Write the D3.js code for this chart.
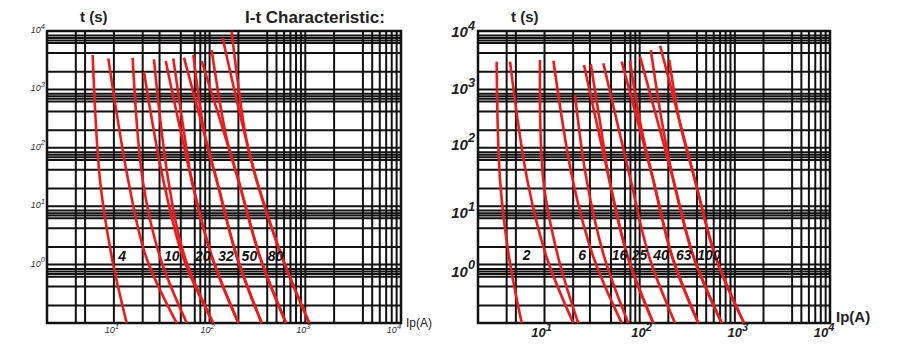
<!DOCTYPE html>
<html><head><meta charset="utf-8">
<script src="https://cdn.jsdelivr.net/npm/d3@7"></script>
<style>html,body{margin:0;padding:0;background:#fff}svg{display:block}</style>
</head><body><div id="chart"></div>
<script>
// ---- data ----
const xDomain = [2, 10000];
const yDomain = [0.1, 10000];
const xGridValues = [4,5,10,20,30,50,70,80,90,100,200,400,500,600,700,800,900,1000,2000,4000,5000,6000,7000,8000,9000];
const yGridValues = [0.2,0.42,0.62,0.69,0.76,0.84,1,2,4.2,6.2,6.9,7.6,8.4,10,20,42,62,69,76,84,100,200,420,620,690,760,840,1000,2000,4200,6200,6900,7600,8400];
const decadeTicks = [1,10,100,1000,10000];
const decadeExp = ["1","2","3","4"];
const yDecadeTicks = [1,10,100,1000,10000];
const yDecadeExp = ["0","1","2","3","4"];

// left chart curves: [current A, time s]
const leftCurves = [
  [[6.0,3880],[7.16,28],[9.5,1.35],[13.6,0.1]],
  [[8.74,3400],[14.1,28],[21.7,1.35],[45.3,0.1]],
  [[15.7,3490],[20,28],[30.3,1.35],[57.7,0.1]],
  [[20.6,2010],[32.8,28],[52.7,1.35],[109,0.1]],
  [[26.2,3280],[37,28],[55,1.35],[109,0.1]],
  [[34.8,3060],[65,28],[106,1.35],[200,0.1]],
  [[41.7,3400],[55,150],[65,28],[106,1.35],[200,0.1]],
  [[54,3490],[118.6,28],[193,1.35],[350,0.1]],
  [[67.6,3880],[90,150],[118.6,28],[193,1.35],[350,0.1]],
  [[82.7,3060],[200,28],[336,1.35],[629,0.1]],
  [[105,4730],[150,150],[200,28],[336,1.35],[629,0.1]],
  [[137,7500],[310,28],[571,1.35],[1101,0.1]],
  [[170,9730],[240,150],[310,28],[571,1.35],[1101,0.1]]
];
const leftLabels = ["4","10","20","32","50","80"];
const leftLabelI = [11.1,33.4,70.4,123,216,405];
const leftLabelT = 1.15;

const rightCurves = [
  [[3.14,2980],[3.41,28],[4.24,1.35],[5.76,0.1]],
  [[4.34,2980],[6.59,28],[10.5,1.35],[20.07,0.1]],
  [[8.96,3190],[9.71,28],[13.9,1.35],[22.6,0.1]],
  [[12.4,3100],[19.8,28],[32.6,1.35],[64.7,0.1]],
  [[20.9,800],[27.7,28],[42.4,1.35],[75.9,0.1]],
  [[26,2620],[48,28],[75,1.35],[139,0.1]],
  [[30.6,2720],[38,300],[48,28],[75,1.35],[139,0.1]],
  [[41.5,2800],[80.5,28],[126,1.35],[235,0.1]],
  [[64.7,2980],[139,28],[220,1.35],[413,0.1]],
  [[79,3100],[100,300],[139,28],[220,1.35],[413,0.1]],
  [[101,3630],[226,28],[369,1.35],[728,0.1]],
  [[131,4730],[170,300],[226,28],[369,1.35],[728,0.1]],
  [[164,5600],[381,28],[628,1.35],[1248,0.1]],
  [[205,3190],[260,300],[381,28],[628,1.35],[1248,0.1]]
];
const rightLabels = ["2","6","16","25","40","63","100"];
const rightLabelI = [5.9,22.6,50.8,82.4,139,241,403];
const rightLabelT = 1.2;

// ---- drawing ----
const W = 900, H = 364;
const svg = d3.select("#chart").append("svg").attr("width", W).attr("height", H)
  .style("font-family", "Liberation Sans, Arial, sans-serif");

function panel(cfg) {
  const x = d3.scaleLog().domain(xDomain).range(cfg.xr);
  const y = d3.scaleLog().domain(yDomain).range(cfg.yr);
  const g = svg.append("g");
  const grid = g.append("g").attr("stroke", "#111").attr("stroke-width", 2);
  grid.selectAll("line.v").data(xGridValues).join("line").attr("class","v")
    .attr("x1", d => x(d)).attr("x2", d => x(d)).attr("y1", cfg.yr[0]).attr("y2", cfg.yr[1]);
  grid.selectAll("line.h").data(yGridValues).join("line").attr("class","h")
    .attr("y1", d => y(d)).attr("y2", d => y(d)).attr("x1", cfg.xr[0]).attr("x2", cfg.xr[1]);
  g.append("rect").attr("x", cfg.xr[0]).attr("y", cfg.yr[1])
    .attr("width", cfg.xr[1]-cfg.xr[0]).attr("height", cfg.yr[0]-cfg.yr[1])
    .attr("fill", "none").attr("stroke", "#111").attr("stroke-width", 2.5);

  const line = d3.line().x(d => x(d[0])).y(d => y(d[1])).curve(d3.curveCatmullRom.alpha(0.5));
  g.append("g").selectAll("path").data(cfg.curves).join("path")
    .attr("d", line).attr("fill", "none").attr("stroke", "#f01a1a").attr("stroke-width", 2.6)
    .attr("stroke-linecap", "butt");

  g.append("g").selectAll("text").data(cfg.labels).join("text")
    .attr("x", (d,i) => x(cfg.labelI[i])).attr("y", y(cfg.labelT))
    .attr("font-size", cfg.lblSize).attr("font-weight", "bold").attr("font-style", "italic")
    .attr("fill", "#111").text(d => d);

  // x tick labels
  const xt = g.append("g");
  decadeTicks.slice(1).forEach((v, i) => {
    const t = xt.append("text").attr("x", x(v) + cfg.xtDx[i]).attr("y", cfg.yr[0] + cfg.xtDy)
      .attr("text-anchor", "middle").attr("font-size", cfg.xTickSize)
      .attr("font-style", "italic").attr("font-weight", cfg.tickWeight).attr("fill", cfg.tickColor);
    t.append("tspan").text("10");
    t.append("tspan").attr("dy", -cfg.xTickSize*0.45).attr("font-size", cfg.xTickSize*0.85).text(decadeExp[i]);
  });
  const yt = g.append("g");
  yDecadeTicks.forEach((v, i) => {
    const t = yt.append("text").attr("x", cfg.xr[0] - cfg.ytDx).attr("y", y(v) + cfg.ytDy[i])
      .attr("text-anchor", "end").attr("font-size", cfg.yTickSize)
      .attr("font-style", "italic").attr("font-weight", cfg.tickWeight).attr("fill", cfg.tickColor);
    t.append("tspan").text("10");
    t.append("tspan").attr("dy", -cfg.yTickSize*0.5).attr("font-size", cfg.yTickSize*0.85).text(yDecadeExp[i]);
  });
  return {x, y, g};
}

panel({xr:[47,401], yr:[323,31], curves:leftCurves, labels:leftLabels, labelI:leftLabelI, labelT:leftLabelT,
  lblSize:14, xTickSize:9, yTickSize:9, tickWeight:"normal", tickColor:"#333", xtDx:[-2,-2,-2,-7], xtDy:10, ytDx:2, ytDy:[2,2,2,2,2]});
panel({xr:[478,830], yr:[323,31], curves:rightCurves, labels:rightLabels, labelI:rightLabelI, labelT:rightLabelT,
  lblSize:14, xTickSize:13, yTickSize:15, tickWeight:"bold", tickColor:"#222", xtDx:[-3,2,3,-6], xtDy:14, ytDx:3, ytDy:[12,12,2,5,6]});

// titles
svg.append("text").attr("x", 80).attr("y", 22).attr("font-size", 15).attr("font-weight", "bold").attr("fill","#222").text("t (s)");
svg.append("text").attr("x", 245).attr("y", 23).attr("font-size", 17).attr("font-weight", "bold").attr("fill","#222").text("I-t Characteristic:");
svg.append("text").attr("x", 511).attr("y", 22).attr("font-size", 15).attr("font-weight", "bold").attr("fill","#222").text("t (s)");
svg.append("text").attr("x", 406).attr("y", 327).attr("font-size", 12).attr("fill","#222").text("Ip(A)");
svg.append("text").attr("x", 836).attr("y", 322).attr("font-size", 15).attr("font-weight", "bold").attr("fill","#222").text("Ip(A)");
</script></body></html>
